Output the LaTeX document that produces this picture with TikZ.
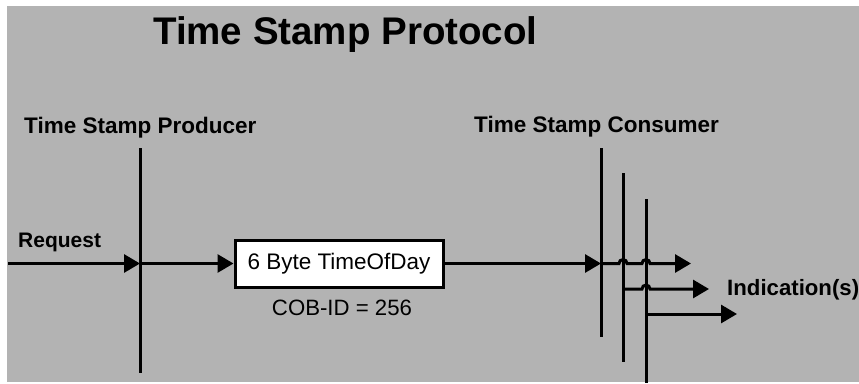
\documentclass[tikz,border=0pt]{standalone}
\usepackage{fontspec}
\setmainfont{Liberation Sans}
\usetikzlibrary{arrows.meta}
\definecolor{panel}{RGB}{179,179,179}
\tikzset{%
  every label text/.style={
    anchor=base west,
    inner sep=0pt,
    font=\bfseries\fontsize{22.5}{26}\selectfont
  },
  frame box/.style={
    draw,
    fill=white,
    line width=3pt,
    minimum width=208pt,
    minimum height=47pt,
    inner sep=0pt,
    font=\fontsize{22.5}{26}\selectfont
  },
  time line/.style={
    line width=3pt
  },
  msg/.style={
    line width=3pt,
    -{Triangle[length=16pt,width=18pt]}
  },
}

\begin{document}
\begin{tikzpicture}[x=1pt, y=-1pt]

        % background
        \fill [white] (0,0) rectangle (859,383);
        \fill [panel] (7,6) rectangle (859,382);
        \useasboundingbox (0,0) rectangle (859,383);

        % titles
        \node [every label text, font=\bfseries\fontsize{38.5}{42}\selectfont] (title) at (153,44) {Time Stamp Protocol};
        \node [every label text] (producer) at (24,133) {Time Stamp Producer};
        \node [every label text] (consumer) at (474,132) {Time Stamp Consumer};
        \node [every label text, font=\bfseries\fontsize{21}{24}\selectfont] (request) at (18,247) {Request};
        \node [every label text, font=\bfseries\fontsize{22.2}{26}\selectfont] (indication) at (727,295) {Indication(s)};

        % time lines
        \coordinate (prod-top) at (140,148);
        \coordinate (prod-bot) at (140,373);
        \coordinate (prod-mid) at (140,263.5);
        \draw [time line] (prod-top) -- (prod-bot);

        \foreach \cx/\t/\b [count=\i] in {601/148/337, 623/173/362, 646/199/383}
        {
        \coordinate (cons-\i-top) at (\cx,\t);
        \coordinate (cons-\i-bot) at (\cx,\b);
        \draw [time line] (cons-\i-top) -- (cons-\i-bot);
        }

        % message
        \node [frame box] (tod) at (339,263.5) {6 Byte TimeOfDay};
        \node [anchor=base, inner sep=0pt, font=\fontsize{22.2}{26}\selectfont] (cobid) at (342,315) {COB-ID = 256};

        \coordinate (req-in) at (8,263.5);
        \coordinate (cons-in) at (601,263.5);
        \draw [msg] (req-in) -- (prod-mid);
        \draw [msg] (prod-mid) -- (tod.west);
        \draw [msg] (tod.east) -- (cons-in);

        % indications
        \coordinate (ind-1) at (691,263.5);
        \coordinate (ind-2) at (709,289);
        \coordinate (ind-3) at (737,314);
        \draw [msg] (cons-in) -- (619,263.5) arc (180:0:4pt) -- (642,263.5) arc (180:0:4pt) -- (ind-1);
        \draw [msg] (623,289) -- (642,289) arc (180:0:4pt) -- (ind-2);
        \draw [msg] (646,314) -- (ind-3);

\end{tikzpicture}
\end{document}
